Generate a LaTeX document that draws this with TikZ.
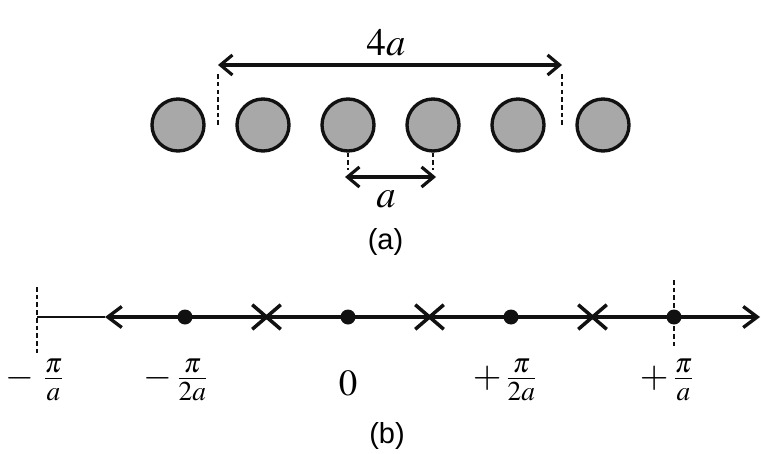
\documentclass[tikz,border=0pt]{standalone}
\usepackage{mathptmx}
\usepackage[no-math]{fontspec}
\usepackage{tikz}
\usetikzlibrary{arrows.meta,shapes.misc}
\newfontfamily\arialfont{Liberation Sans}
\definecolor{atomgrau}{HTML}{A8A8A8}
\definecolor{strich}{HTML}{111111}
\tikzset{
  atom/.style={circle,fill=atomgrau,draw=strich,line width=1.9pt,minimum size=1.04cm,inner sep=0pt},
  mass/.style={{Straight Barb[length=2.4mm,width=4mm]}-{Straight Barb[length=2.4mm,width=4mm]},strich,line width=1.8pt},
  achse/.style={{Straight Barb[length=2.8mm,width=4.2mm]}-{Straight Barb[length=2.8mm,width=4.2mm]},strich,line width=1.9pt},
  duenn/.style={strich,line width=0.9pt},
  hilf/.style={strich,line width=0.9pt,dash pattern=on 2.6pt off 1.8pt},
  punkt/.style={circle,fill=strich,minimum size=0.3cm,inner sep=0pt},
  kreuz/.style={cross out,draw=strich,line width=2pt,minimum width=0.5cm,minimum height=0.42cm,inner sep=0pt},
  mlab/.style={font=\fontsize{22}{26}\selectfont},
  klab/.style={font=\fontsize{21}{25}\selectfont},
  tlab/.style={font=\arialfont\fontsize{16.5}{19}\selectfont},
}

\begin{document}
\begin{tikzpicture}
  \useasboundingbox (-6.96,-2.72) rectangle (8.26,6.34);
  % (a) Kette
  \node[atom] (at1) at (-3.4,3.84) {};
  \node[atom] (at2) at (-1.7,3.84) {};
  \node[atom] (at3) at (0,3.84) {};
  \node[atom] (at4) at (1.7,3.84) {};
  \node[atom] (at5) at (3.4,3.84) {};
  \node[atom] (at6) at (5.1,3.84) {};
  \coordinate (g4l) at (-2.6,3.84);
  \coordinate (g4r) at (4.28,3.84);
  \coordinate (p4l) at (-2.6,5.04);
  \coordinate (p4r) at (4.28,5.04);
  \draw[hilf] (g4l) -- ([yshift=-1.6mm]p4l);
  \draw[hilf] (g4r) -- ([yshift=-1.6mm]p4r);
  \draw[mass] (p4l) -- (p4r);
  \node[mlab] (l4a) at (0.76,5.48) {$4a$};
  \coordinate (pa1) at (-0.06,2.8);
  \coordinate (pa2) at (1.76,2.8);
  \draw[hilf] (at3.south) -- ([yshift=1.4mm]at3.south |- pa1);
  \draw[hilf] (at4.south) -- ([yshift=1.4mm]at4.south |- pa2);
  \draw[mass] (pa1) -- (pa2);
  \node[mlab] (la) at (0.76,2.36) {$a$};
  \node[tlab] (ta) at (0.75,1.5) {(a)};
  % (b) Achse
  \coordinate (kl) at (-6.22,0);
  \coordinate (ka) at (-4.86,0);
  \coordinate (ke) at (8.24,0);
  \draw[duenn] (kl) -- (ka);
  \draw[achse] (ka) -- (ke);
  \draw[hilf] ([yshift=6mm]kl) -- ([yshift=-7.2mm]kl);
  \draw[hilf] (6.52,0.74) -- (6.52,-0.6);
  \node[punkt] (km1) at (-3.26,0) {};
  \node[punkt] (k0) at (0,0) {};
  \node[punkt] (kp1) at (3.26,0) {};
  \node[punkt] (kp2) at (6.52,0) {};
  \node[kreuz] (x1) at (-1.63,0) {};
  \node[kreuz] (x2) at (1.63,0) {};
  \node[kreuz] (x3) at (4.89,0) {};
  \node[klab] (lm2) at (-6.26,-1.26) {$-\;\frac{\pi}{a}$};
  \node[klab] (lm1) at (-3.44,-1.26) {$-\,\frac{\pi}{2a}$};
  \node[klab] (l0) at (0,-1.33) {$0$};
  \node[klab] (lp1) at (3.14,-1.26) {$+\,\frac{\pi}{2a}$};
  \node[klab] (lp2) at (6.38,-1.26) {$+\,\frac{\pi}{a}$};
  \node[tlab] (tb) at (0.78,-2.38) {(b)};
\end{tikzpicture}
\end{document}
